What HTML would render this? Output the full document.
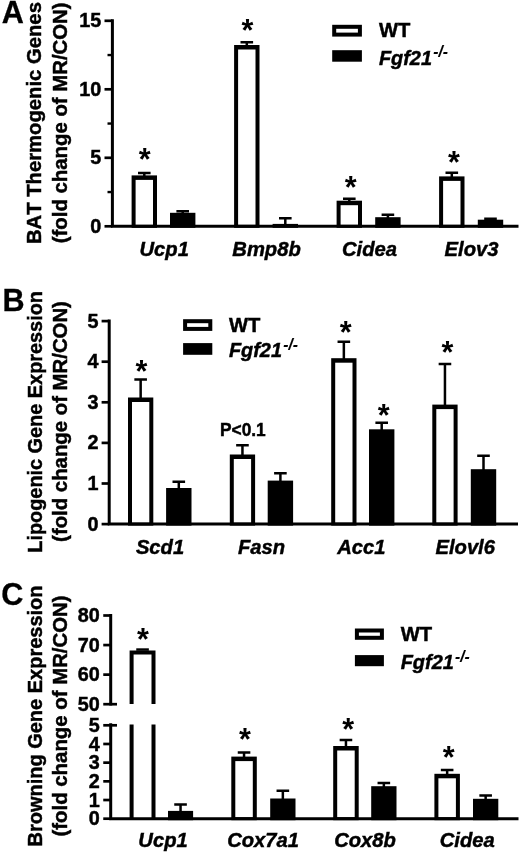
<!DOCTYPE html>
<html lang="en"><head><meta charset="utf-8"><title>Figure</title>
<style>
html,body{margin:0;padding:0;background:#fff;}
body{width:520px;height:854px;overflow:hidden;}
svg{display:block;filter:blur(0.4px);}
svg text{font-family:"Liberation Sans", Arial, Helvetica, sans-serif;font-weight:bold;fill:#000;font-kerning:none;}
</style></head><body>
<svg width="520" height="854" viewBox="0 0 520 854">
<rect width="520" height="854" fill="#fff"/>
<text transform="translate(1.70 23.40) scale(1 1.04)" font-size="30.6" stroke="#000" stroke-width="0.3">A</text>
<text transform="translate(41.30 123.10) rotate(-90) scale(1 1.04)" font-size="20.3" text-anchor="middle" textLength="242.0" lengthAdjust="spacingAndGlyphs" stroke="#000" stroke-width="0.45">BAT Thermogenic Genes</text>
<text transform="translate(66.70 122.80) rotate(-90) scale(1 1.04)" font-size="20.3" text-anchor="middle" textLength="240.8" lengthAdjust="spacingAndGlyphs" stroke="#000" stroke-width="0.45">(fold change of MR/CON)</text>
<path d="M138.00 173.05H150.60M144.30 173.05V176.40" stroke="#000" stroke-width="2.5" fill="none"/>
<rect x="131.60" y="175.40" width="25.40" height="52.40" fill="#000"/>
<rect x="135.60" y="179.90" width="17.40" height="44.90" fill="#fff"/>
<path d="M176.40 211.25H189.00M182.70 211.25V213.80" stroke="#000" stroke-width="2.5" fill="none"/>
<rect x="170.00" y="212.80" width="25.40" height="15.00" fill="#000"/>
<path d="M240.50 42.35H253.10M246.80 42.35V46.00" stroke="#000" stroke-width="2.5" fill="none"/>
<rect x="234.10" y="45.00" width="25.40" height="182.80" fill="#000"/>
<rect x="238.10" y="49.50" width="17.40" height="175.30" fill="#fff"/>
<path d="M279.00 218.15H291.60M285.30 218.15V224.90" stroke="#000" stroke-width="2.5" fill="none"/>
<rect x="272.60" y="223.90" width="25.40" height="3.90" fill="#000"/>
<path d="M343.00 198.75H355.60M349.30 198.75V201.70" stroke="#000" stroke-width="2.5" fill="none"/>
<rect x="336.60" y="200.70" width="25.40" height="27.10" fill="#000"/>
<rect x="340.60" y="205.20" width="17.40" height="19.60" fill="#fff"/>
<path d="M381.60 214.85H394.20M387.90 214.85V218.20" stroke="#000" stroke-width="2.5" fill="none"/>
<rect x="375.20" y="217.20" width="25.40" height="10.60" fill="#000"/>
<path d="M445.50 172.85H458.10M451.80 172.85V177.40" stroke="#000" stroke-width="2.5" fill="none"/>
<rect x="439.10" y="176.40" width="25.40" height="51.40" fill="#000"/>
<rect x="443.10" y="180.90" width="17.40" height="43.90" fill="#fff"/>
<path d="M484.20 218.85H496.80M490.50 218.85V220.70" stroke="#000" stroke-width="2.5" fill="none"/>
<rect x="477.80" y="219.70" width="25.40" height="8.10" fill="#000"/>
<path d="M112.4 19.30V227.80M110.90 226.3H518.5" stroke="#000" stroke-width="3.0" fill="none"/>
<path d="M104.5 226.30H112.4" stroke="#000" stroke-width="2.7"/>
<text transform="translate(101.20 232.88) scale(1 1.04)" font-size="19.8" text-anchor="end" stroke="#000" stroke-width="0.45">0</text>
<path d="M104.5 157.80H112.4" stroke="#000" stroke-width="2.7"/>
<text transform="translate(101.20 164.38) scale(1 1.04)" font-size="19.8" text-anchor="end" stroke="#000" stroke-width="0.45">5</text>
<path d="M104.5 89.30H112.4" stroke="#000" stroke-width="2.7"/>
<text transform="translate(101.20 95.88) scale(1 1.04)" font-size="19.8" text-anchor="end" stroke="#000" stroke-width="0.45">10</text>
<path d="M104.5 20.80H112.4" stroke="#000" stroke-width="2.7"/>
<text transform="translate(101.20 27.38) scale(1 1.04)" font-size="19.8" text-anchor="end" stroke="#000" stroke-width="0.45">15</text>
<path d="M107.5 192.05H112.4" stroke="#000" stroke-width="2.4"/>
<path d="M107.5 123.55H112.4" stroke="#000" stroke-width="2.4"/>
<path d="M107.5 55.05H112.4" stroke="#000" stroke-width="2.4"/>
<text x="144.70" y="170.28" font-size="30.5" text-anchor="middle">*</text>
<text x="247.40" y="40.98" font-size="30.5" text-anchor="middle">*</text>
<text x="350.75" y="198.08" font-size="30.5" text-anchor="middle">*</text>
<text x="453.85" y="173.38" font-size="30.5" text-anchor="middle">*</text>
<text transform="translate(164.20 255.60) scale(1 1.04)" font-size="20.2" text-anchor="middle" font-style="italic" stroke="#000" stroke-width="0.45">Ucp1</text>
<text transform="translate(266.50 255.60) scale(1 1.04)" font-size="20.2" text-anchor="middle" font-style="italic" stroke="#000" stroke-width="0.45">Bmp8b</text>
<text transform="translate(369.50 255.60) scale(1 1.04)" font-size="20.2" text-anchor="middle" font-style="italic" stroke="#000" stroke-width="0.45">Cidea</text>
<text transform="translate(471.50 255.60) scale(1 1.04)" font-size="20.2" text-anchor="middle" font-style="italic" stroke="#000" stroke-width="0.45">Elov3</text>
<rect x="334.20" y="26.80" width="25.70" height="7.80" fill="#fff" stroke="#000" stroke-width="4.0"/>
<rect x="332.20" y="50.20" width="29.70" height="11.50" fill="#000"/>
<text transform="translate(379.00 37.00) scale(1 1.04)" font-size="20.2" stroke="#000" stroke-width="0.45">WT</text>
<text transform="translate(378.90 64.50) scale(1 1.04)" font-size="19.9" font-style="italic" stroke="#000" stroke-width="0.45">Fgf21<tspan font-size="15.6" dy="-7" dx="1.3" stroke-width="0.1">-/-</tspan></text>
<text transform="translate(2.40 310.60) scale(1 1.04)" font-size="30.6" stroke="#000" stroke-width="0.3">B</text>
<text transform="translate(41.50 421.90) rotate(-90) scale(1 1.04)" font-size="20.3" text-anchor="middle" textLength="261.7" lengthAdjust="spacingAndGlyphs" stroke="#000" stroke-width="0.45">Lipogenic Gene Expression</text>
<text transform="translate(66.70 421.50) rotate(-90) scale(1 1.04)" font-size="20.3" text-anchor="middle" textLength="240.8" lengthAdjust="spacingAndGlyphs" stroke="#000" stroke-width="0.45">(fold change of MR/CON)</text>
<path d="M134.35 379.50H146.95M140.65 379.50V398.50" stroke="#000" stroke-width="2.5" fill="none"/>
<rect x="128.00" y="397.50" width="25.30" height="128.10" fill="#000"/>
<rect x="132.00" y="402.00" width="17.30" height="120.60" fill="#fff"/>
<path d="M172.50 481.75H185.10M178.80 481.75V489.00" stroke="#000" stroke-width="2.5" fill="none"/>
<rect x="166.10" y="488.00" width="25.40" height="37.60" fill="#000"/>
<path d="M236.15 445.35H248.75M242.45 445.35V455.50" stroke="#000" stroke-width="2.5" fill="none"/>
<rect x="229.80" y="454.50" width="25.30" height="71.10" fill="#000"/>
<rect x="233.80" y="459.00" width="17.30" height="63.60" fill="#fff"/>
<path d="M274.10 473.35H286.70M280.40 473.35V481.60" stroke="#000" stroke-width="2.5" fill="none"/>
<rect x="267.70" y="480.60" width="25.40" height="45.00" fill="#000"/>
<path d="M337.55 341.65H350.15M343.85 341.65V359.20" stroke="#000" stroke-width="2.5" fill="none"/>
<rect x="331.20" y="358.20" width="25.30" height="167.40" fill="#000"/>
<rect x="335.20" y="362.70" width="17.30" height="159.90" fill="#fff"/>
<path d="M375.40 422.65H388.00M381.70 422.65V430.30" stroke="#000" stroke-width="2.5" fill="none"/>
<rect x="369.00" y="429.30" width="25.40" height="96.30" fill="#000"/>
<path d="M438.65 363.95H451.25M444.95 363.95V405.60" stroke="#000" stroke-width="2.5" fill="none"/>
<rect x="432.30" y="404.60" width="25.30" height="121.00" fill="#000"/>
<rect x="436.30" y="409.10" width="17.30" height="113.50" fill="#fff"/>
<path d="M477.20 455.85H489.80M483.50 455.85V470.20" stroke="#000" stroke-width="2.5" fill="none"/>
<rect x="470.80" y="469.20" width="25.40" height="56.40" fill="#000"/>
<path d="M109.2 319.60V525.60M107.70 524.1H518" stroke="#000" stroke-width="3.0" fill="none"/>
<path d="M101.6 524.10H109.2" stroke="#000" stroke-width="2.7"/>
<text transform="translate(98.60 530.68) scale(1 1.04)" font-size="19.8" text-anchor="end" stroke="#000" stroke-width="0.45">0</text>
<path d="M101.6 483.50H109.2" stroke="#000" stroke-width="2.7"/>
<text transform="translate(98.60 490.08) scale(1 1.04)" font-size="19.8" text-anchor="end" stroke="#000" stroke-width="0.45">1</text>
<path d="M101.6 442.90H109.2" stroke="#000" stroke-width="2.7"/>
<text transform="translate(98.60 449.48) scale(1 1.04)" font-size="19.8" text-anchor="end" stroke="#000" stroke-width="0.45">2</text>
<path d="M101.6 402.30H109.2" stroke="#000" stroke-width="2.7"/>
<text transform="translate(98.60 408.88) scale(1 1.04)" font-size="19.8" text-anchor="end" stroke="#000" stroke-width="0.45">3</text>
<path d="M101.6 361.70H109.2" stroke="#000" stroke-width="2.7"/>
<text transform="translate(98.60 368.28) scale(1 1.04)" font-size="19.8" text-anchor="end" stroke="#000" stroke-width="0.45">4</text>
<path d="M101.6 321.10H109.2" stroke="#000" stroke-width="2.7"/>
<text transform="translate(98.60 327.68) scale(1 1.04)" font-size="19.8" text-anchor="end" stroke="#000" stroke-width="0.45">5</text>
<text x="141.40" y="382.18" font-size="30.5" text-anchor="middle">*</text>
<text x="345.80" y="342.68" font-size="30.5" text-anchor="middle">*</text>
<text x="383.60" y="425.68" font-size="30.5" text-anchor="middle">*</text>
<text x="447.40" y="363.28" font-size="30.5" text-anchor="middle">*</text>
<text transform="translate(242.90 436.00) scale(1 1.04)" font-size="17.3" text-anchor="middle" stroke="#000" stroke-width="0.45">P&lt;0.1</text>
<text transform="translate(160.00 553.60) scale(1 1.04)" font-size="20.2" text-anchor="middle" font-style="italic" stroke="#000" stroke-width="0.45">Scd1</text>
<text transform="translate(261.50 553.60) scale(1 1.04)" font-size="20.2" text-anchor="middle" font-style="italic" stroke="#000" stroke-width="0.45">Fasn</text>
<text transform="translate(361.40 553.60) scale(1 1.04)" font-size="20.2" text-anchor="middle" font-style="italic" stroke="#000" stroke-width="0.45">Acc1</text>
<text transform="translate(465.20 553.60) scale(1 1.04)" font-size="20.2" text-anchor="middle" font-style="italic" stroke="#000" stroke-width="0.45">Elovl6</text>
<rect x="185.10" y="321.20" width="25.20" height="7.70" fill="#fff" stroke="#000" stroke-width="4.0"/>
<rect x="183.10" y="343.10" width="29.20" height="11.70" fill="#000"/>
<text transform="translate(229.00 331.50) scale(1 1.04)" font-size="20.2" stroke="#000" stroke-width="0.45">WT</text>
<text transform="translate(228.90 357.40) scale(1 1.04)" font-size="19.9" font-style="italic" stroke="#000" stroke-width="0.45">Fgf21<tspan font-size="15.6" dy="-7" dx="1.3" stroke-width="0.1">-/-</tspan></text>
<text transform="translate(1.30 605.30) scale(1 1.04)" font-size="30.6" stroke="#000" stroke-width="0.3">C</text>
<text transform="translate(41.50 716.00) rotate(-90) scale(1 1.04)" font-size="20.3" text-anchor="middle" textLength="260.9" lengthAdjust="spacingAndGlyphs" stroke="#000" stroke-width="0.45">Browning Gene Expression</text>
<text transform="translate(66.70 715.95) rotate(-90) scale(1 1.04)" font-size="20.3" text-anchor="middle" textLength="241.1" lengthAdjust="spacingAndGlyphs" stroke="#000" stroke-width="0.45">(fold change of MR/CON)</text>
<path d="M136.25 649.55H148.85" stroke="#000" stroke-width="2.5"/>
<path d="M131.60 704.0V652.40H153.50V704.0" stroke="#000" stroke-width="4.0" fill="none"/>
<path d="M131.60 724.6V818.7M153.50 724.6V818.7" stroke="#000" stroke-width="4.0" fill="none"/>
<path d="M174.25 804.45H186.85M180.55 804.45V811.90" stroke="#000" stroke-width="2.5" fill="none"/>
<rect x="168.00" y="810.90" width="25.10" height="9.30" fill="#000"/>
<path d="M237.75 752.45H250.35M244.05 752.45V757.60" stroke="#000" stroke-width="2.5" fill="none"/>
<rect x="231.30" y="756.60" width="25.50" height="63.60" fill="#000"/>
<rect x="235.30" y="761.10" width="17.50" height="56.10" fill="#fff"/>
<path d="M276.55 790.85H289.15M282.85 790.85V799.50" stroke="#000" stroke-width="2.5" fill="none"/>
<rect x="270.20" y="798.50" width="25.30" height="21.70" fill="#000"/>
<path d="M339.65 740.05H352.25M345.95 740.05V747.00" stroke="#000" stroke-width="2.5" fill="none"/>
<rect x="333.20" y="746.00" width="25.50" height="74.20" fill="#000"/>
<rect x="337.20" y="750.50" width="17.50" height="66.70" fill="#fff"/>
<path d="M377.55 782.95H390.15M383.85 782.95V787.20" stroke="#000" stroke-width="2.5" fill="none"/>
<rect x="371.20" y="786.20" width="25.30" height="34.00" fill="#000"/>
<path d="M440.85 770.05H453.45M447.15 770.05V774.80" stroke="#000" stroke-width="2.5" fill="none"/>
<rect x="434.40" y="773.80" width="25.50" height="46.40" fill="#000"/>
<rect x="438.40" y="778.30" width="17.50" height="38.90" fill="#fff"/>
<path d="M479.35 795.45H491.95M485.65 795.45V799.80" stroke="#000" stroke-width="2.5" fill="none"/>
<rect x="473.00" y="798.80" width="25.30" height="21.40" fill="#000"/>
<path d="M110.7 614V705.5M110.7 723.3V820.20M109.20 818.7H518.5" stroke="#000" stroke-width="3.0" fill="none"/>
<path d="M103.25 615.50H110.7" stroke="#000" stroke-width="2.7"/>
<text transform="translate(99.70 622.08) scale(1 1.04)" font-size="19.8" text-anchor="end" stroke="#000" stroke-width="0.45">80</text>
<path d="M103.25 645.07H110.7" stroke="#000" stroke-width="2.7"/>
<text transform="translate(99.70 651.65) scale(1 1.04)" font-size="19.8" text-anchor="end" stroke="#000" stroke-width="0.45">70</text>
<path d="M103.25 674.63H110.7" stroke="#000" stroke-width="2.7"/>
<text transform="translate(99.70 681.21) scale(1 1.04)" font-size="19.8" text-anchor="end" stroke="#000" stroke-width="0.45">60</text>
<path d="M103.25 704.20H117.0" stroke="#000" stroke-width="2.7"/>
<text transform="translate(99.70 710.78) scale(1 1.04)" font-size="19.8" text-anchor="end" stroke="#000" stroke-width="0.45">50</text>
<path d="M103.25 818.70H110.7" stroke="#000" stroke-width="2.7"/>
<text transform="translate(99.70 825.28) scale(1 1.04)" font-size="19.8" text-anchor="end" stroke="#000" stroke-width="0.45">0</text>
<path d="M103.25 800.02H110.7" stroke="#000" stroke-width="2.7"/>
<text transform="translate(99.70 806.60) scale(1 1.04)" font-size="19.8" text-anchor="end" stroke="#000" stroke-width="0.45">1</text>
<path d="M103.25 781.34H110.7" stroke="#000" stroke-width="2.7"/>
<text transform="translate(99.70 787.92) scale(1 1.04)" font-size="19.8" text-anchor="end" stroke="#000" stroke-width="0.45">2</text>
<path d="M103.25 762.66H110.7" stroke="#000" stroke-width="2.7"/>
<text transform="translate(99.70 769.24) scale(1 1.04)" font-size="19.8" text-anchor="end" stroke="#000" stroke-width="0.45">3</text>
<path d="M103.25 743.98H110.7" stroke="#000" stroke-width="2.7"/>
<text transform="translate(99.70 750.56) scale(1 1.04)" font-size="19.8" text-anchor="end" stroke="#000" stroke-width="0.45">4</text>
<path d="M103.25 725.30H117.0" stroke="#000" stroke-width="2.7"/>
<text transform="translate(99.70 731.88) scale(1 1.04)" font-size="19.8" text-anchor="end" stroke="#000" stroke-width="0.45">5</text>
<text x="143.00" y="650.18" font-size="30.5" text-anchor="middle">*</text>
<text x="245.00" y="750.33" font-size="30.5" text-anchor="middle">*</text>
<text x="348.10" y="739.68" font-size="30.5" text-anchor="middle">*</text>
<text x="448.75" y="768.18" font-size="30.5" text-anchor="middle">*</text>
<text transform="translate(163.00 847.00) scale(1 1.04)" font-size="20.2" text-anchor="middle" font-style="italic" stroke="#000" stroke-width="0.45">Ucp1</text>
<text transform="translate(263.10 847.00) scale(1 1.04)" font-size="20.2" text-anchor="middle" font-style="italic" stroke="#000" stroke-width="0.45">Cox7a1</text>
<text transform="translate(365.00 847.00) scale(1 1.04)" font-size="20.2" text-anchor="middle" font-style="italic" stroke="#000" stroke-width="0.45">Cox8b</text>
<text transform="translate(467.20 847.00) scale(1 1.04)" font-size="20.2" text-anchor="middle" font-style="italic" stroke="#000" stroke-width="0.45">Cidea</text>
<rect x="356.90" y="630.50" width="25.00" height="7.30" fill="#fff" stroke="#000" stroke-width="4.0"/>
<rect x="354.90" y="655.10" width="29.00" height="11.10" fill="#000"/>
<text transform="translate(400.80 640.90) scale(1 1.04)" font-size="20.2" stroke="#000" stroke-width="0.45">WT</text>
<text transform="translate(400.70 669.20) scale(1 1.04)" font-size="19.9" font-style="italic" stroke="#000" stroke-width="0.45">Fgf21<tspan font-size="15.6" dy="-7" dx="1.3" stroke-width="0.1">-/-</tspan></text>
</svg>
</body></html>
